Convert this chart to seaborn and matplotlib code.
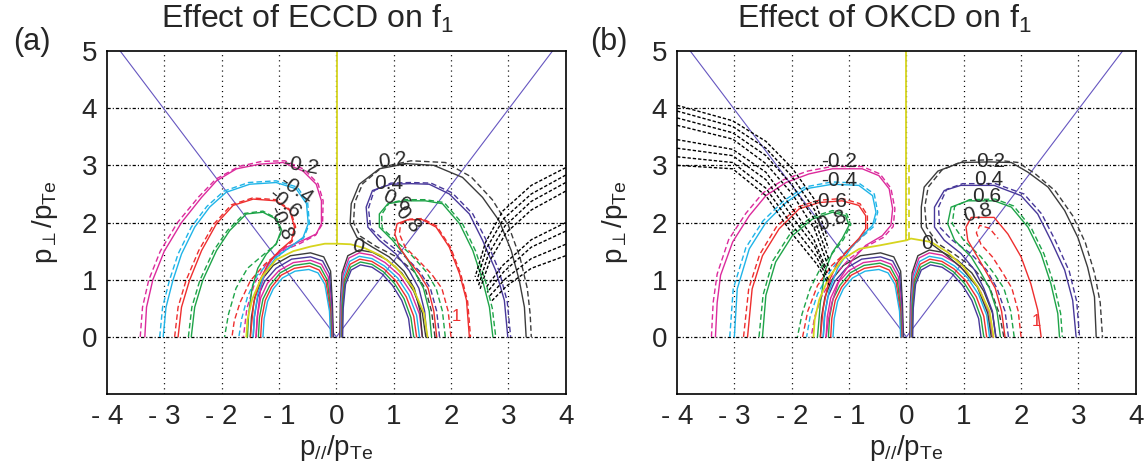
import matplotlib
matplotlib.use('Agg')
import matplotlib.pyplot as plt
import seaborn as sns

# ---------------- data (units of p_Te) ----------------
xtick_vals = [-4, -3, -2, -1, 0, 1, 2, 3, 4]
xtick_labels = ['- 4', '- 3', '- 2', '- 1', '0', '1', '2', '3', '4']
ytick_vals = [0, 1, 2, 3, 4, 5]

# resonance lines (both panels)
res_x = [-3.77, 0.0, 3.77]
res_y = [5.0, 0.0, 5.0]

# inner "M" arches, shared by both panels
al_k_x = [-1.5, -1.48, -1.42, -1.3, -1.1, -0.8, -0.45, -0.22, -0.1, -0.07, -0.05]
al_k_y = [0, 0.35, 0.7, 1.0, 1.25, 1.42, 1.47, 1.4, 1.15, 0.6, 0]
al_p_x = [-1.45, -1.43, -1.37, -1.25, -1.05, -0.78, -0.45, -0.24, -0.12, -0.08, -0.06]
al_p_y = [0, 0.35, 0.7, 0.97, 1.2, 1.36, 1.4, 1.33, 1.1, 0.55, 0]
al_m_x = [-1.4, -1.38, -1.32, -1.2, -1.0, -0.75, -0.45, -0.26, -0.14, -0.09, -0.07]
al_m_y = [0, 0.35, 0.68, 0.94, 1.16, 1.3, 1.34, 1.27, 1.05, 0.5, 0]
al_g_x = [-1.36, -1.34, -1.28, -1.16, -0.98, -0.74, -0.46, -0.28, -0.16, -0.1, -0.08]
al_g_y = [0, 0.34, 0.66, 0.9, 1.12, 1.25, 1.29, 1.22, 1.0, 0.5, 0]
al_r_x = [-1.32, -1.3, -1.24, -1.13, -0.96, -0.73, -0.47, -0.3, -0.18, -0.11, -0.09]
al_r_y = [0, 0.33, 0.64, 0.87, 1.08, 1.2, 1.24, 1.17, 0.96, 0.48, 0]
al_c_x = [-1.28, -1.26, -1.2, -1.1, -0.94, -0.72, -0.48, -0.32, -0.2, -0.12, -0.1]
al_c_y = [0, 0.32, 0.62, 0.84, 1.03, 1.15, 1.18, 1.12, 0.92, 0.45, 0]

ar_k_x = [0.06, 0.07, 0.1, 0.2, 0.4, 0.63, 0.88, 1.14, 1.35, 1.5, 1.56]
ar_k_y = [0, 0.6, 1.12, 1.42, 1.52, 1.48, 1.35, 1.12, 0.8, 0.42, 0]
ar_m_x = [0.07, 0.08, 0.12, 0.22, 0.4, 0.62, 0.85, 1.1, 1.3, 1.45, 1.5]
ar_m_y = [0, 0.6, 1.1, 1.38, 1.47, 1.43, 1.3, 1.08, 0.78, 0.4, 0]
ar_c_x = [0.08, 0.09, 0.13, 0.23, 0.4, 0.62, 0.84, 1.07, 1.26, 1.4, 1.45]
ar_c_y = [0, 0.6, 1.05, 1.32, 1.41, 1.37, 1.24, 1.03, 0.74, 0.38, 0]
ar_r_x = [0.09, 0.1, 0.14, 0.24, 0.41, 0.62, 0.83, 1.04, 1.22, 1.35, 1.4]
ar_r_y = [0, 0.55, 1.0, 1.27, 1.36, 1.32, 1.19, 0.98, 0.7, 0.36, 0]
ar_g_x = [0.1, 0.11, 0.15, 0.25, 0.42, 0.62, 0.82, 1.01, 1.18, 1.3, 1.35]
ar_g_y = [0, 0.55, 0.96, 1.22, 1.31, 1.27, 1.14, 0.94, 0.67, 0.34, 0]
ar_p_x = [0.11, 0.12, 0.16, 0.26, 0.42, 0.62, 0.8, 0.98, 1.14, 1.26, 1.3]
ar_p_y = [0, 0.5, 0.92, 1.17, 1.26, 1.22, 1.1, 0.9, 0.64, 0.32, 0]

# ---- panel (a): ECCD ----
a_zero_x = [0.02, 0.02]
a_zero_y = [5.0, 1.63]
a_zl_x = [0.02, -0.2, -0.45, -0.75, -1.05, -1.3, -1.47, -1.55, -1.57]
a_zl_y = [1.63, 1.63, 1.58, 1.5, 1.35, 1.05, 0.65, 0.3, 0]
a_zr_x = [0.02, 0.25, 0.5, 0.78, 1.04, 1.33, 1.53, 1.59]
a_zr_y = [1.63, 1.62, 1.55, 1.42, 1.22, 0.87, 0.41, 0]

a_m02_x = [-3.34, -3.31, -3.2, -3.0, -2.7, -2.35, -2.09, -1.74, -1.34, -0.93, -0.58, -0.35, -0.26,
           -0.26, -0.35, -0.58, -0.87, -1.08, -1.22, -1.32, -1.37, -1.4]
a_m02_y = [0, 0.52, 1.0, 1.5, 2.0, 2.44, 2.73, 2.94, 3.02, 3.05, 2.9, 2.67, 2.38,
           1.98, 1.8, 1.69, 1.57, 1.42, 1.2, 0.85, 0.42, 0]
a_m04_x = [-3.02, -2.97, -2.85, -2.7, -2.47, -2.21, -1.92, -1.51, -1.05, -0.7, -0.52, -0.49,
           -0.58, -0.81, -1.06, -1.25, -1.37, -1.43, -1.45]
a_m04_y = [0, 0.52, 0.99, 1.45, 1.92, 2.27, 2.53, 2.67, 2.7, 2.59, 2.33, 1.98,
           1.74, 1.57, 1.38, 1.12, 0.75, 0.35, 0]
a_m06_x = [-2.76, -2.7, -2.56, -2.35, -2.09, -1.8, -1.45, -1.05, -0.81, -0.73, -0.78, -0.99,
           -1.18, -1.33, -1.44, -1.5]
a_m06_y = [0, 0.52, 0.99, 1.51, 1.98, 2.3, 2.41, 2.38, 2.21, 1.92, 1.69, 1.51,
           1.3, 1.0, 0.6, 0]
a_m08_x = [-2.53, -2.47, -2.33, -2.09, -1.86, -1.57, -1.28, -1.05, -0.96, -1.05, -1.22, -1.37,
           -1.47, -1.53, -1.55]
a_m08_y = [0, 0.52, 0.99, 1.51, 1.86, 2.15, 2.18, 2.06, 1.86, 1.63, 1.45, 1.2,
           0.85, 0.4, 0]

a_m02d_x = [-3.42, -3.38, -3.27, -3.07, -2.77, -2.4, -2.1, -1.7, -1.3, -0.9, -0.56, -0.32, -0.23,
            -0.24, -0.36, -0.62, -0.95, -1.22, -1.42, -1.56, -1.62]
a_m02d_y = [0, 0.52, 1.0, 1.5, 2.0, 2.45, 2.76, 2.98, 3.07, 3.08, 2.93, 2.68, 2.38,
            1.98, 1.78, 1.64, 1.5, 1.28, 0.95, 0.5, 0]
a_m04d_x = [-3.08, -3.03, -2.91, -2.76, -2.53, -2.26, -1.96, -1.53, -1.05, -0.68, -0.5, -0.47,
            -0.57, -0.83, -1.12, -1.38, -1.55, -1.65, -1.7]
a_m04d_y = [0, 0.52, 0.99, 1.45, 1.92, 2.28, 2.55, 2.7, 2.73, 2.62, 2.35, 1.98,
            1.73, 1.55, 1.36, 1.08, 0.7, 0.32, 0]
a_m06d_x = [-2.82, -2.76, -2.62, -2.4, -2.13, -1.83, -1.46, -1.05, -0.8, -0.71, -0.77, -1.0,
            -1.25, -1.5, -1.68, -1.78, -1.82]
a_m06d_y = [0, 0.52, 0.99, 1.51, 1.98, 2.31, 2.43, 2.4, 2.22, 1.92, 1.67, 1.48,
            1.27, 0.98, 0.6, 0.28, 0]
a_m08d_x = [-2.58, -2.52, -2.38, -2.14, -1.9, -1.6, -1.28, -1.04, -0.95, -1.05, -1.28, -1.55,
            -1.75, -1.88, -1.95]
a_m08d_y = [0, 0.52, 0.99, 1.51, 1.86, 2.16, 2.2, 2.07, 1.86, 1.62, 1.43, 1.2,
            0.85, 0.4, 0]

a_p02_x = [1.5, 1.46, 1.36, 1.18, 0.92, 0.63, 0.36, 0.24, 0.26, 0.4, 0.75, 1.22, 1.7, 2.2,
           2.55, 2.84, 3.05, 3.19, 3.28, 3.31]
a_p02_y = [0, 0.45, 0.85, 1.15, 1.4, 1.57, 1.74, 1.98, 2.33, 2.67, 2.94, 3.03, 3.0, 2.79,
           2.44, 2.03, 1.51, 0.99, 0.52, 0]
a_p04_x = [1.58, 1.54, 1.44, 1.27, 1.04, 0.75, 0.55, 0.52, 0.63, 0.95, 1.3, 1.62, 1.97, 2.32,
           2.55, 2.78, 2.93, 2.99]
a_p04_y = [0, 0.45, 0.85, 1.16, 1.45, 1.69, 1.92, 2.27, 2.56, 2.67, 2.68, 2.67, 2.5, 2.15,
           1.69, 1.16, 0.64, 0]
a_p06_x = [1.66, 1.62, 1.52, 1.36, 1.2, 0.98, 0.75, 0.75, 0.9, 1.2, 1.55, 1.85, 2.15, 2.38,
           2.55, 2.67, 2.73]
a_p06_y = [0, 0.45, 0.85, 1.15, 1.42, 1.69, 1.92, 2.15, 2.33, 2.38, 2.38, 2.33, 1.98, 1.51,
           0.99, 0.52, 0]
a_p08_x = [1.75, 1.7, 1.6, 1.45, 1.25, 1.1, 1.02, 1.06, 1.25, 1.5, 1.74, 1.97, 2.15, 2.27, 2.32]
a_p08_y = [0, 0.45, 0.85, 1.1, 1.35, 1.57, 1.8, 1.98, 2.05, 2.05, 1.92, 1.57, 1.1, 0.64, 0]

a_p02d_x = [1.72, 1.66, 1.55, 1.35, 1.05, 0.7, 0.42, 0.3, 0.32, 0.46, 0.8, 1.3, 1.9, 2.35,
            2.72, 3.0, 3.2, 3.33, 3.38, 3.4]
a_p02d_y = [0, 0.45, 0.85, 1.15, 1.4, 1.58, 1.76, 2.0, 2.35, 2.68, 2.97, 3.08, 3.05, 2.8,
            2.4, 1.95, 1.4, 0.85, 0.4, 0]
a_p04d_x = [1.8, 1.75, 1.64, 1.45, 1.18, 0.85, 0.6, 0.56, 0.66, 0.95, 1.3, 1.65, 2.02, 2.38,
            2.62, 2.84, 2.98, 3.04]
a_p04d_y = [0, 0.45, 0.85, 1.15, 1.42, 1.67, 1.9, 2.25, 2.56, 2.69, 2.7, 2.69, 2.52, 2.15,
            1.68, 1.15, 0.62, 0]
a_p06d_x = [1.9, 1.85, 1.74, 1.56, 1.32, 1.05, 0.8, 0.79, 0.92, 1.2, 1.55, 1.88, 2.2, 2.43,
            2.6, 2.72, 2.78]
a_p06d_y = [0, 0.45, 0.85, 1.15, 1.42, 1.67, 1.9, 2.14, 2.34, 2.4, 2.4, 2.35, 1.98, 1.5,
            0.98, 0.5, 0]
a_p08d_x = [2.0, 1.95, 1.84, 1.66, 1.42, 1.2, 1.1, 1.12, 1.28, 1.5, 1.75, 1.99, 2.17, 2.29, 2.34]
a_p08d_y = [0, 0.45, 0.85, 1.1, 1.35, 1.57, 1.8, 1.98, 2.06, 2.07, 1.94, 1.57, 1.1, 0.62, 0]

# black dashed fan at the right edge of (a)
a_band_x = [[4.0, 3.4, 2.9, 2.6, 2.42], [4.0, 3.4, 2.92, 2.62, 2.45],
            [4.0, 3.4, 2.94, 2.65, 2.48], [4.0, 3.4, 2.96, 2.68, 2.5],
            [4.0, 3.4, 2.9, 2.6], [4.0, 3.4, 2.92, 2.63],
            [4.0, 3.4, 2.95, 2.66], [4.0, 3.4, 2.98, 2.7]]
a_band_y = [[2.96, 2.65, 2.2, 1.65, 1.05], [2.83, 2.5, 2.07, 1.55, 0.98],
            [2.7, 2.37, 1.94, 1.44, 0.9], [2.55, 2.22, 1.82, 1.34, 0.82],
            [2.0, 1.7, 1.25, 0.85], [1.85, 1.57, 1.14, 0.78],
            [1.62, 1.37, 1.02, 0.7], [1.42, 1.2, 0.9, 0.62]]

# ---- panel (b): OKCD ----
b_zero_x = [0.0, 0.0]
b_zero_y = [5.0, 1.69]
b_zerod_x = [0.05, 0.05]
b_zerod_y = [3.0, 1.72]
b_zl_x = [0.0, -0.47, -0.82, -1.1, -1.35, -1.52, -1.6, -1.62]
b_zl_y = [1.69, 1.6, 1.54, 1.37, 1.05, 0.65, 0.3, 0]
b_zr_x = [0.0, 0.08, 0.43, 0.72, 1.0, 1.25, 1.45, 1.52]
b_zr_y = [1.69, 1.72, 1.66, 1.48, 1.22, 0.87, 0.45, 0]

b_m02_x = [-3.33, -3.3, -3.24, -3.03, -2.74, -2.45, -2.1, -1.7, -1.29, -0.77, -0.48, -0.3, -0.24,
           -0.27, -0.42, -0.71, -0.94, -1.17, -1.3, -1.36, -1.4]
b_m02_y = [0, 0.6, 1.08, 1.66, 2.12, 2.47, 2.7, 2.85, 2.94, 2.94, 2.82, 2.59, 2.24,
           1.95, 1.77, 1.6, 1.35, 1.0, 0.6, 0.3, 0]
b_m04_x = [-3.0, -2.95, -2.74, -2.45, -2.1, -1.76, -1.29, -0.83, -0.59, -0.53, -0.59, -0.77,
           -0.97, -1.2, -1.35, -1.42, -1.45]
b_m04_y = [0, 0.84, 1.54, 2.0, 2.35, 2.59, 2.67, 2.65, 2.47, 2.18, 1.95, 1.77,
           1.55, 1.2, 0.8, 0.4, 0]
b_m06_x = [-2.77, -2.69, -2.51, -2.22, -1.87, -1.52, -1.12, -0.83, -0.71, -0.71, -0.83, -1.0,
           -1.2, -1.36, -1.45, -1.5]
b_m06_y = [0, 0.84, 1.42, 1.89, 2.24, 2.35, 2.38, 2.3, 2.12, 1.89, 1.72, 1.54,
           1.3, 0.95, 0.5, 0]
b_m08_x = [-2.51, -2.45, -2.28, -1.99, -1.64, -1.29, -1.06, -1.0, -1.12, -1.29, -1.42, -1.5, -1.55]
b_m08_y = [0, 0.73, 1.31, 1.77, 2.06, 2.18, 2.12, 1.95, 1.72, 1.48, 1.15, 0.6, 0]

b_m02d_x = [-3.4, -3.37, -3.3, -3.1, -2.8, -2.5, -2.14, -1.72, -1.3, -0.77, -0.46, -0.27, -0.2,
            -0.23, -0.4, -0.72, -1.0, -1.28, -1.48, -1.6, -1.66]
b_m02d_y = [0, 0.6, 1.1, 1.7, 2.16, 2.52, 2.75, 2.9, 2.98, 2.98, 2.85, 2.6, 2.24,
            1.93, 1.74, 1.57, 1.36, 1.05, 0.7, 0.35, 0]
b_m04d_x = [-3.08, -3.02, -2.8, -2.5, -2.14, -1.78, -1.3, -0.83, -0.56, -0.5, -0.57, -0.78,
            -1.05, -1.33, -1.55, -1.68, -1.74]
b_m04d_y = [0, 0.84, 1.56, 2.03, 2.38, 2.62, 2.71, 2.69, 2.5, 2.18, 1.93, 1.74,
            1.5, 1.15, 0.75, 0.35, 0]
b_m06d_x = [-2.84, -2.75, -2.56, -2.27, -1.9, -1.53, -1.12, -0.81, -0.68, -0.68, -0.82, -1.03,
            -1.3, -1.55, -1.72, -1.81]
b_m06d_y = [0, 0.84, 1.44, 1.92, 2.27, 2.39, 2.42, 2.33, 2.13, 1.88, 1.7, 1.5,
            1.25, 0.9, 0.45, 0]
b_m08d_x = [-2.57, -2.5, -2.33, -2.03, -1.66, -1.29, -1.04, -0.97, -1.1, -1.3, -1.5, -1.68,
            -1.82, -1.9]
b_m08d_y = [0, 0.73, 1.33, 1.8, 2.09, 2.21, 2.15, 1.96, 1.7, 1.45, 1.2, 0.84, 0.4, 0]

b_p02_x = [1.48, 1.42, 1.24, 0.95, 0.66, 0.43, 0.26, 0.26, 0.31, 0.55, 0.95, 1.45, 1.83, 2.12,
           2.47, 2.76, 2.99, 3.16, 3.28, 3.31]
b_p02_y = [0, 0.41, 0.87, 1.22, 1.46, 1.63, 1.92, 2.27, 2.62, 2.9, 3.05, 3.06, 3.05, 2.88,
           2.62, 2.21, 1.74, 1.22, 0.7, 0]
b_p04_x = [1.56, 1.5, 1.35, 1.19, 0.95, 0.66, 0.49, 0.49, 0.66, 0.95, 1.53, 2.0, 2.29, 2.52,
           2.76, 2.9, 2.96]
b_p04_y = [0, 0.45, 0.85, 1.17, 1.46, 1.69, 1.92, 2.27, 2.56, 2.65, 2.65, 2.47, 2.15, 1.69,
           1.17, 0.64, 0]
b_p06_x = [1.64, 1.58, 1.45, 1.3, 1.13, 0.84, 0.72, 0.78, 1.07, 1.53, 1.83, 2.12, 2.35, 2.52,
           2.64, 2.67]
b_p06_y = [0, 0.45, 0.85, 1.12, 1.4, 1.69, 1.98, 2.27, 2.38, 2.38, 2.27, 1.92, 1.45, 0.93,
           0.41, 0]
b_p08_x = [1.72, 1.66, 1.55, 1.4, 1.24, 1.07, 1.04, 1.13, 1.53, 1.77, 2.0, 2.17, 2.29, 2.35]
b_p08_y = [0, 0.45, 0.85, 1.12, 1.4, 1.69, 1.92, 2.09, 2.09, 1.8, 1.4, 0.93, 0.47, 0]

b_p02d_x = [1.7, 1.62, 1.45, 1.15, 0.82, 0.55, 0.35, 0.32, 0.38, 0.62, 1.0, 1.5, 1.95, 2.25,
            2.6, 2.9, 3.12, 3.28, 3.38, 3.42]
b_p02d_y = [0, 0.41, 0.87, 1.22, 1.46, 1.63, 1.92, 2.27, 2.62, 2.92, 3.08, 3.1, 3.05, 2.85,
            2.55, 2.12, 1.65, 1.12, 0.6, 0]
b_p04d_x = [1.78, 1.72, 1.58, 1.4, 1.12, 0.8, 0.58, 0.56, 0.7, 0.98, 1.55, 2.05, 2.36, 2.6,
            2.84, 2.97, 3.02]
b_p04d_y = [0, 0.45, 0.85, 1.17, 1.46, 1.69, 1.92, 2.27, 2.58, 2.68, 2.68, 2.5, 2.15, 1.68,
            1.15, 0.62, 0]
b_p06d_x = [1.88, 1.82, 1.7, 1.52, 1.3, 1.0, 0.8, 0.84, 1.1, 1.55, 1.87, 2.17, 2.4, 2.57,
            2.69, 2.72]
b_p06d_y = [0, 0.45, 0.85, 1.12, 1.4, 1.69, 1.98, 2.28, 2.4, 2.41, 2.29, 1.92, 1.45, 0.93,
            0.41, 0]
b_p08d_x = [2.0, 1.95, 1.84, 1.68, 1.5, 1.3, 1.22, 1.28, 1.45, 1.6]
b_p08d_y = [0, 0.45, 0.85, 1.12, 1.4, 1.62, 1.82, 1.95, 1.9, 1.72]

# black dashed band at the upper left of (b)
b_band_x = [[-4, -3.03, -2.45, -1.99, -1.6, -1.38], [-4, -3.03, -2.45, -1.99, -1.6, -1.36],
            [-4, -3.03, -2.45, -1.99, -1.6, -1.35], [-4, -3.03, -2.45, -1.99, -1.6, -1.33],
            [-4, -3.03, -2.45, -1.99, -1.62, -1.4], [-4, -3.03, -2.45, -1.99, -1.6, -1.38],
            [-4, -3.03, -2.45, -1.99, -1.58, -1.36], [-4, -3.03, -2.45, -1.99, -1.56, -1.34]]
b_band_y = [[4.05, 3.78, 3.42, 2.95, 2.4, 1.75], [3.95, 3.68, 3.3, 2.8, 2.22, 1.55],
            [3.83, 3.57, 3.17, 2.65, 2.05, 1.35], [3.7, 3.46, 3.03, 2.5, 1.88, 1.15],
            [3.45, 3.28, 2.88, 2.25, 1.72, 1.2], [3.3, 3.17, 2.75, 2.1, 1.58, 1.1],
            [3.15, 3.05, 2.6, 1.95, 1.42, 1.0], [3.0, 2.94, 2.47, 1.8, 1.27, 0.9]]

# contour labels: text, x, y, rotation
a_labels = [('-0.2', -0.62, 3.0, -10), ('-0.4', -0.7, 2.57, -35), ('-0.6', -0.9, 2.34, -40),
            ('-0.8', -0.97, 2.0, -65), ('0.2', 0.98, 3.08, 8), ('0.4', 0.92, 2.68, 0),
            ('0.6', 1.05, 2.38, -25), ('0.8', 1.24, 2.05, -50), ('0', 0.37, 1.58, -10)]
b_labels = [('-0.2', -1.17, 3.07, 0), ('-0.4', -1.17, 2.73, 0), ('-0.6', -1.35, 2.37, 0),
            ('-0.8', -1.35, 2.02, 20), ('0.2', 1.47, 3.07, 0), ('0.4', 1.44, 2.75, 0),
            ('0.6', 1.4, 2.45, 0), ('0.8', 1.25, 2.17, 15), ('0', 0.36, 1.64, 0)]
a_one = (2.1, 0.35)
b_one = (2.26, 0.27)

# ---------------- styling ----------------
MAG = '#dc2a9c'
CYA = '#1fb4e8'
RED = '#ee2e2e'
GRN = '#1ea448'
BLK = '#3c3c3c'
PUR = '#48389a'
YEL = '#d6d41e'
RES = '#6656c0'
SOLID = '-'
DASH = (0, (4, 2.2))
BAND = (0, (2.4, 1.4))

sns.set_style('white')
plt.rcParams['font.family'] = ['Liberation Sans', 'DejaVu Sans']
plt.rcParams['mathtext.fontset'] = 'custom'
plt.rcParams['mathtext.rm'] = 'Liberation Sans'
plt.rcParams['mathtext.it'] = 'Liberation Sans:italic'
plt.rcParams['mathtext.default'] = 'regular'

arches = [(al_k_x, al_k_y, BLK), (al_p_x, al_p_y, PUR), (al_m_x, al_m_y, MAG),
          (al_g_x, al_g_y, GRN), (al_r_x, al_r_y, RED), (al_c_x, al_c_y, CYA),
          (ar_k_x, ar_k_y, BLK), (ar_m_x, ar_m_y, MAG), (ar_c_x, ar_c_y, CYA),
          (ar_r_x, ar_r_y, RED), (ar_g_x, ar_g_y, GRN), (ar_p_x, ar_p_y, PUR)]

a_curves = [(a_m02d_x, a_m02d_y, MAG, DASH), (a_m04d_x, a_m04d_y, CYA, DASH),
            (a_m06d_x, a_m06d_y, RED, DASH), (a_m08d_x, a_m08d_y, GRN, DASH),
            (a_p02d_x, a_p02d_y, BLK, DASH), (a_p04d_x, a_p04d_y, PUR, DASH),
            (a_p06d_x, a_p06d_y, GRN, DASH), (a_p08d_x, a_p08d_y, RED, DASH),
            (a_m02_x, a_m02_y, MAG, SOLID), (a_m04_x, a_m04_y, CYA, SOLID),
            (a_m06_x, a_m06_y, RED, SOLID), (a_m08_x, a_m08_y, GRN, SOLID),
            (a_p02_x, a_p02_y, BLK, SOLID), (a_p04_x, a_p04_y, PUR, SOLID),
            (a_p06_x, a_p06_y, GRN, SOLID), (a_p08_x, a_p08_y, RED, SOLID),
            (a_zero_x, a_zero_y, YEL, SOLID), (a_zl_x, a_zl_y, YEL, SOLID),
            (a_zr_x, a_zr_y, YEL, SOLID)]
a_curves += [(bx, by, 'black', BAND) for bx, by in zip(a_band_x, a_band_y)]

b_curves = [(b_m02d_x, b_m02d_y, MAG, DASH), (b_m04d_x, b_m04d_y, CYA, DASH),
            (b_m06d_x, b_m06d_y, RED, DASH), (b_m08d_x, b_m08d_y, GRN, DASH),
            (b_p02d_x, b_p02d_y, BLK, DASH), (b_p04d_x, b_p04d_y, PUR, DASH),
            (b_p06d_x, b_p06d_y, GRN, DASH), (b_p08d_x, b_p08d_y, RED, DASH),
            (b_m02_x, b_m02_y, MAG, SOLID), (b_m04_x, b_m04_y, CYA, SOLID),
            (b_m06_x, b_m06_y, RED, SOLID), (b_m08_x, b_m08_y, GRN, SOLID),
            (b_p02_x, b_p02_y, BLK, SOLID), (b_p04_x, b_p04_y, PUR, SOLID),
            (b_p06_x, b_p06_y, GRN, SOLID), (b_p08_x, b_p08_y, RED, SOLID),
            (b_zero_x, b_zero_y, YEL, SOLID), (b_zerod_x, b_zerod_y, YEL, DASH),
            (b_zl_x, b_zl_y, YEL, SOLID), (b_zr_x, b_zr_y, YEL, SOLID)]
b_curves += [(bx, by, 'black', BAND) for bx, by in zip(b_band_x, b_band_y)]


def line(ax, xs, ys, color, ls, lw=1.0):
    if color == YEL:
        lw = 1.3
    sns.lineplot(x=xs, y=ys, sort=False, estimator=None, color=color,
                 linestyle=ls, linewidth=lw, ax=ax)


def draw_panel(ax, curves, labels, one_pos):
    for x in xtick_vals[1:-1]:
        ax.axvline(x, color='black', lw=0.9, ls=(0, (0.9, 3.2)), zorder=0)
    for y in ytick_vals[:-1]:
        ax.axhline(y, color='black', lw=0.9, ls=(0, (2.6, 1.6, 0.9, 1.6)), zorder=0)
    line(ax, res_x, res_y, RES, SOLID, lw=0.8)
    for xs, ys, col in arches:
        line(ax, xs, ys, col, SOLID)
    for xs, ys, col, ls in curves:
        line(ax, xs, ys, col, ls)
    for txt, x, y, rot in labels:
        ax.text(x, y, txt, rotation=rot, ha='center', va='center', fontsize=15,
                color='#2a2a2a', zorder=5)
    ax.text(one_pos[0], one_pos[1], '1', ha='center', va='center', fontsize=12,
            color=RED, zorder=5)
    ax.set_xlim(-4, 4)
    ax.set_ylim(-1, 5)
    ax.set_xticks(xtick_vals)
    ax.set_xticklabels(xtick_labels)
    ax.set_yticks(ytick_vals)
    ax.set_yticklabels([str(v) for v in ytick_vals])
    ax.tick_params(length=0, labelsize=20, pad=7)
    ax.set_xlabel(r'p$_{//}$/p$_{Te}$', fontsize=20, labelpad=2)
    ax.set_ylabel(r'p$_{\perp}$/p$_{Te}$', fontsize=20, labelpad=16)
    for s in ax.spines.values():
        s.set_color('black')
        s.set_linewidth(1.2)


fig = plt.figure(figsize=(11.44, 4.72), dpi=100)
ax_a = fig.add_axes([0.0935, 0.165, 0.401, 0.727])
ax_b = fig.add_axes([0.5918, 0.165, 0.401, 0.727])

draw_panel(ax_a, a_curves, a_labels, a_one)
draw_panel(ax_b, b_curves, b_labels, b_one)

fig.text(307 / 1144, 1 - 19 / 472, r'Effect of ECCD on f$_1$', ha='center', va='center',
         fontsize=23)
fig.text(884 / 1144, 1 - 19 / 472, r'Effect of OKCD on f$_1$', ha='center', va='center',
         fontsize=23)
fig.text(32 / 1144, 1 - 42 / 472, '(a)', ha='center', va='center', fontsize=22)
fig.text(609 / 1144, 1 - 42 / 472, '(b)', ha='center', va='center', fontsize=22)

fig.savefig('out.png', dpi=100)
